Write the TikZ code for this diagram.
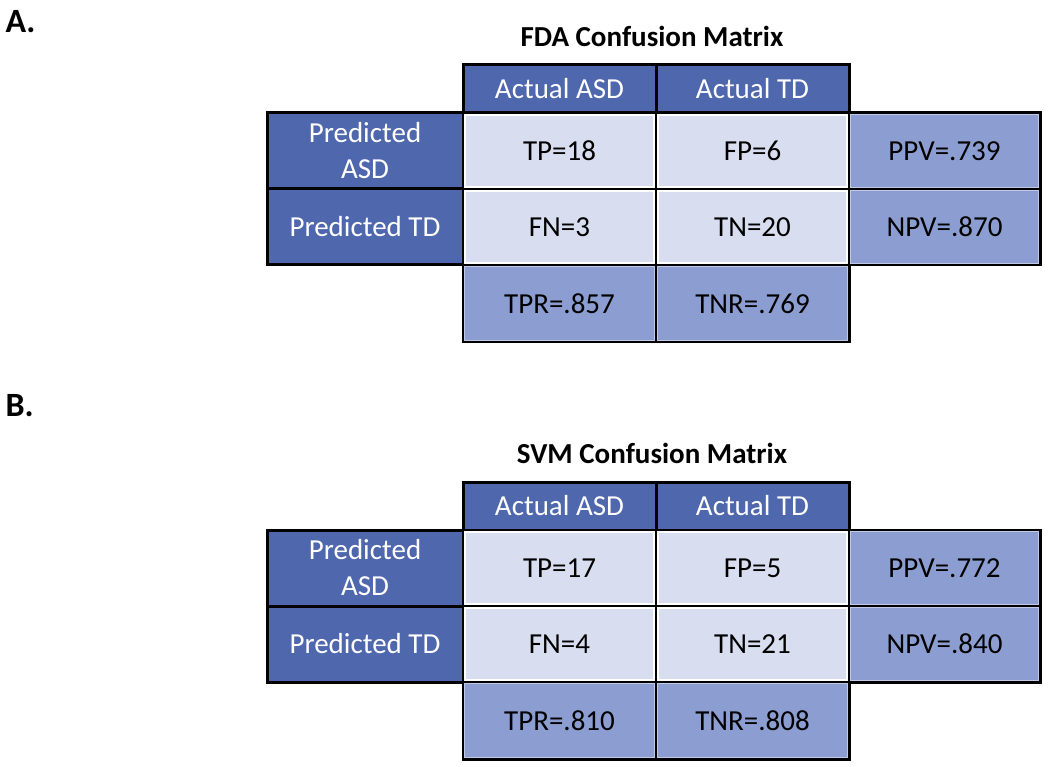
\documentclass[tikz,border=0pt]{standalone}
\usepackage{fontspec}
\setmainfont{Carlito}
\definecolor{darkc}{HTML}{4F67AD}
\definecolor{lightc}{HTML}{D8DEEF}
\definecolor{midc}{HTML}{8C9ED1}
\tikzset{
  cellbase/.style={draw=black, line width=3pt, inner sep=0pt, minimum height=76pt, minimum width=193pt, align=center,
    font=\fontsize{29}{36}\selectfont},
  headcell/.style={cellbase, fill=darkc, text=white},
  midcell/.style={cellbase, fill=midc, text=black},
  toprow/.style={minimum height=48pt},
  title/.style={font=\fontsize{29}{34}\selectfont\bfseries},
  panel/.style={font=\fontsize{34}{40}\selectfont\bfseries, anchor=west},
  inset/.style={draw=white, line width=1.4pt},
  midinset/.style={draw=midc!55!white, line width=1pt}
}
\begin{document}
\begin{tikzpicture}[x=1pt,y=-1pt]
\useasboundingbox (0,0) rectangle (1050,767);
% ---------- A ----------
\node[panel] (pa) at (2,22) {A.};
\node[title] (ta) at (652,36) {FDA Confusion Matrix};
\node[headcell, toprow] (ah1) at (559.5,89) {Actual ASD};
\node[headcell, toprow] (ah2) at (752.5,89) {Actual TD};
\node[headcell, minimum width=196pt] (ar1) at (365,151) {Predicted\\ASD};
\node[headcell, minimum width=196pt] (ar2) at (365,227) {Predicted TD};
\node[cellbase, fill=lightc] (a11) at (559.5,151) {TP=18};
\node[cellbase, fill=lightc] (a12) at (752.5,151) {FP=6};
\node[cellbase, fill=lightc] (a21) at (559.5,227) {FN=3};
\node[cellbase, fill=lightc] (a22) at (752.5,227) {TN=20};
\node[midcell, minimum width=191pt] (ap1) at (944.5,151) {PPV=.739};
\node[midcell, minimum width=191pt] (ap2) at (944.5,227) {NPV=.870};
\node[midcell, minimum height=77pt] (ab1) at (559.5,303.5) {TPR=.857};
\node[midcell, minimum height=77pt] (ab2) at (752.5,303.5) {TNR=.769};
\foreach \n in {a11,a12,a21,a22}{
  \draw[inset] ([shift={(3.5pt,-3.5pt)}]\n.north west) rectangle ([shift={(-3.5pt,3.5pt)}]\n.south east);
}
\foreach \n in {ap1,ap2,ab1,ab2}{
  \draw[midinset] ([shift={(3pt,-3pt)}]\n.north west) rectangle ([shift={(-3pt,3pt)}]\n.south east);
}
% ---------- B ----------
\node[panel] (pb) at (2,406) {B.};
\node[title] (tb) at (652,453) {SVM Confusion Matrix};
\node[headcell, toprow] (bh1) at (559.5,506) {Actual ASD};
\node[headcell, toprow] (bh2) at (752.5,506) {Actual TD};
\node[headcell, minimum width=196pt] (br1) at (365,568) {Predicted\\ASD};
\node[headcell, minimum width=196pt] (br2) at (365,644) {Predicted TD};
\node[cellbase, fill=lightc] (b11) at (559.5,568) {TP=17};
\node[cellbase, fill=lightc] (b12) at (752.5,568) {FP=5};
\node[cellbase, fill=lightc] (b21) at (559.5,644) {FN=4};
\node[cellbase, fill=lightc] (b22) at (752.5,644) {TN=21};
\node[midcell, minimum width=191pt] (bp1) at (944.5,568) {PPV=.772};
\node[midcell, minimum width=191pt] (bp2) at (944.5,644) {NPV=.840};
\node[midcell, minimum height=77pt] (bb1) at (559.5,720.5) {TPR=.810};
\node[midcell, minimum height=77pt] (bb2) at (752.5,720.5) {TNR=.808};
\foreach \n in {b11,b12,b21,b22}{
  \draw[inset] ([shift={(3.5pt,-3.5pt)}]\n.north west) rectangle ([shift={(-3.5pt,3.5pt)}]\n.south east);
}
\foreach \n in {bp1,bp2,bb1,bb2}{
  \draw[midinset] ([shift={(3pt,-3pt)}]\n.north west) rectangle ([shift={(-3pt,3pt)}]\n.south east);
}
\end{tikzpicture}
\end{document}
